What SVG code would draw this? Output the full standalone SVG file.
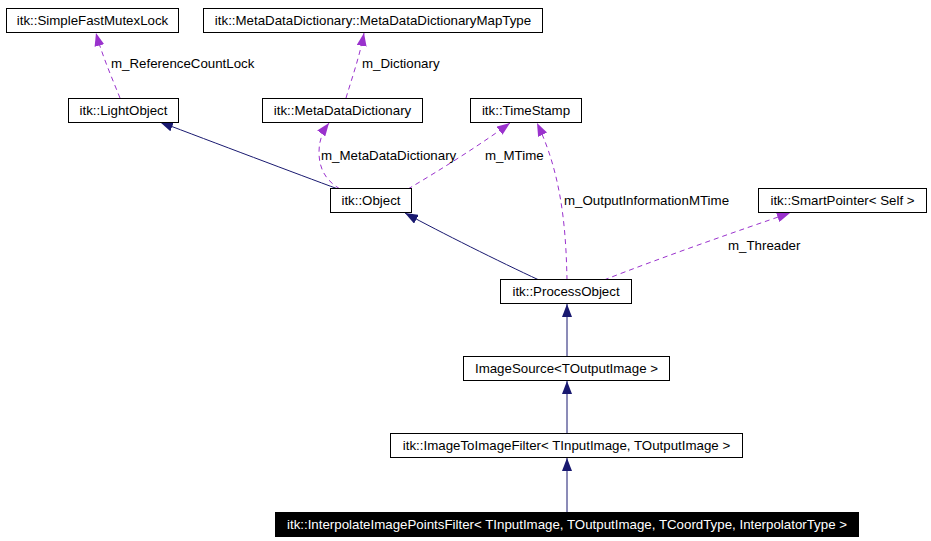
<svg xmlns="http://www.w3.org/2000/svg" width="931" height="541" viewBox="0 0 931 541">
<style>
  .box rect { fill: #ffffff; stroke: #000000; stroke-width: 1; }
  .box text { font-family: "Liberation Sans", Arial, sans-serif; font-size: 13.3px; fill: #000000; text-anchor: middle; }
  .sel rect { fill: #000000; stroke: #000000; stroke-width: 1; }
  .sel text { font-family: "Liberation Sans", Arial, sans-serif; font-size: 13.3px; fill: #ffffff; text-anchor: middle; }
  .inh { fill: none; stroke: #191970; stroke-width: 1; marker-end: url(#navyArrow); }
  .use { fill: none; stroke: #9a32cd; stroke-width: 1; stroke-dasharray: 5,4; marker-end: url(#purpleArrow); }
  .lbl { font-family: "Liberation Sans", Arial, sans-serif; font-size: 13.3px; fill: #000000; }
</style>
<defs>
  <marker id="navyArrow" markerUnits="userSpaceOnUse" markerWidth="13" markerHeight="10" refX="13" refY="5" orient="auto">
    <path d="M0,0 L13,5 L0,10 z" fill="#191970"/>
  </marker>
  <marker id="purpleArrow" markerUnits="userSpaceOnUse" markerWidth="13" markerHeight="10" refX="13" refY="5" orient="auto">
    <path d="M0,0 L13,5 L0,10 z" fill="#9a32cd"/>
  </marker>
</defs>
<rect x="0" y="0" width="931" height="541" fill="#ffffff"/>
<g id="connectors">
  <path class="inh" d="M338,189 C300,175 210,141 160,122"/>
  <path class="inh" d="M539,280 C500,262 440,232 405,213"/>
  <path class="inh" d="M567,357 L567,304"/>
  <path class="inh" d="M567,433 L567,381"/>
  <path class="inh" d="M567,512 L567,458"/>
  <path class="use" d="M120,98 C112,78 102,55 96,33"/>
  <path class="use" d="M346,98 C352,78 360,55 364,33"/>
  <path class="use" d="M340,189 C325,180 319,168 319,152 C319,140 323,131 329,123"/>
  <path class="use" d="M408,189 C440,170 480,145 510,123"/>
  <path class="use" d="M567,280 C566,230 562,175 537,123"/>
  <path class="use" d="M604,280 C660,258 740,230 790,213"/>
  <text class="lbl" x="111" y="67.5">m_ReferenceCountLock</text>
  <text class="lbl" x="362" y="67.5">m_Dictionary</text>
  <text class="lbl" x="321" y="159.5">m_MetaDataDictionary</text>
  <text class="lbl" x="485" y="159.5">m_MTime</text>
  <text class="lbl" x="564" y="204.5">m_OutputInformationMTime</text>
  <text class="lbl" x="728" y="249.5">m_Threader</text>
</g>
<g id="node-SimpleFastMutexLock" class="box">
  <rect x="6.5" y="8.5" width="172" height="24"/>
  <text x="92.5" y="25">itk::SimpleFastMutexLock</text>
</g>
<g id="node-MetaDataDictionaryMapType" class="box">
  <rect x="203.5" y="8.5" width="339" height="24"/>
  <text x="373" y="25">itk::MetaDataDictionary::MetaDataDictionaryMapType</text>
</g>
<g id="node-LightObject" class="box">
  <rect x="68.5" y="98.5" width="110" height="24"/>
  <text x="123.5" y="115">itk::LightObject</text>
</g>
<g id="node-MetaDataDictionary" class="box">
  <rect x="262.5" y="98.5" width="160" height="24"/>
  <text x="342.5" y="115">itk::MetaDataDictionary</text>
</g>
<g id="node-TimeStamp" class="box">
  <rect x="470.5" y="98.5" width="111" height="24"/>
  <text x="526" y="115">itk::TimeStamp</text>
</g>
<g id="node-Object" class="box">
  <rect x="330.5" y="188.5" width="81" height="24"/>
  <text x="371" y="205">itk::Object</text>
</g>
<g id="node-SmartPointer" class="box">
  <rect x="758.5" y="188.5" width="168" height="24"/>
  <text x="842.5" y="205">itk::SmartPointer&lt; Self &gt;</text>
</g>
<g id="node-ProcessObject" class="box">
  <rect x="500.5" y="279.5" width="131" height="24"/>
  <text x="566" y="296">itk::ProcessObject</text>
</g>
<g id="node-ImageSource" class="box">
  <rect x="463.5" y="356.5" width="206" height="24"/>
  <text x="566.5" y="373">ImageSource&lt;TOutputImage &gt;</text>
</g>
<g id="node-ImageToImageFilter" class="box">
  <rect x="390.5" y="433.5" width="352" height="24"/>
  <text x="566.5" y="450">itk::ImageToImageFilter&lt; TInputImage, TOutputImage &gt;</text>
</g>
<g id="node-InterpolateImagePointsFilter" class="sel">
  <rect x="275.5" y="512.5" width="583" height="24"/>
  <text x="567" y="529">itk::InterpolateImagePointsFilter&lt; TInputImage, TOutputImage, TCoordType, InterpolatorType &gt;</text>
</g>
</svg>
